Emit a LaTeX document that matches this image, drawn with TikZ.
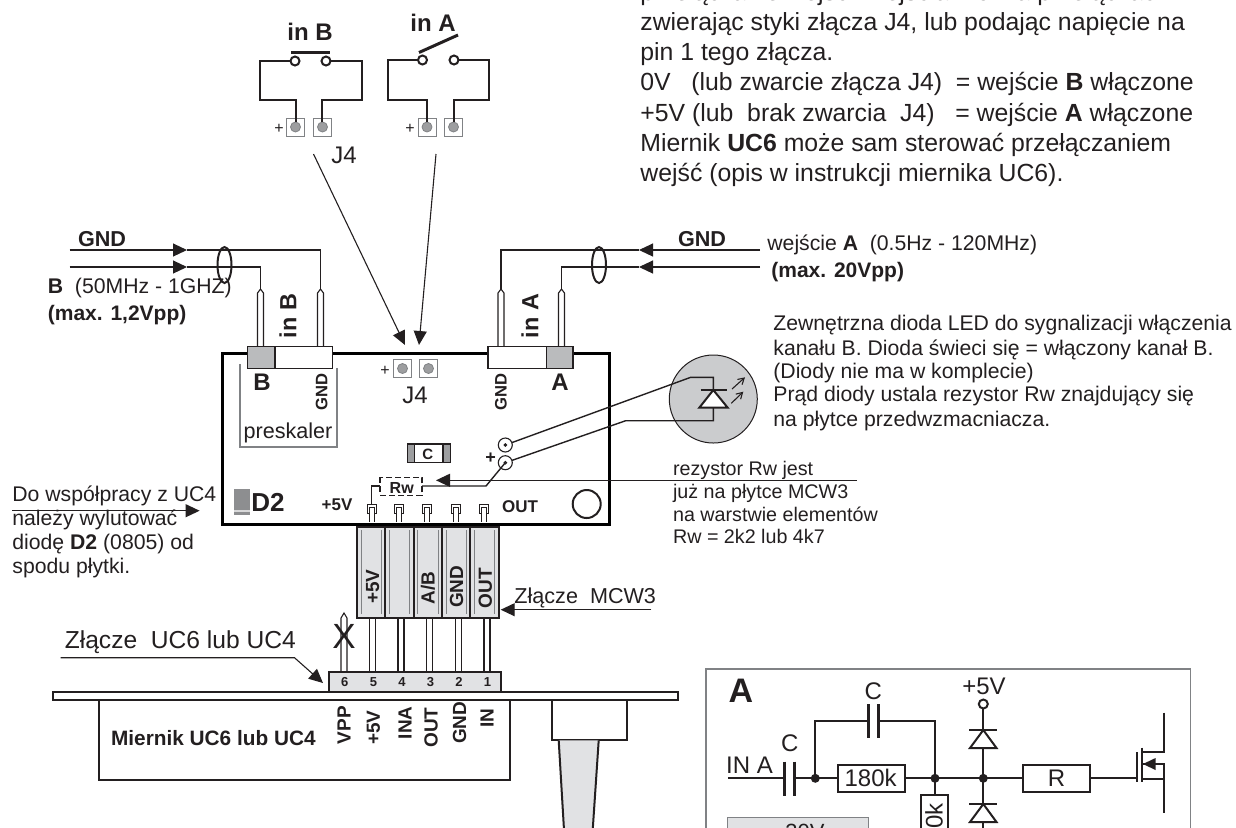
\documentclass[tikz,border=0pt]{standalone}
\usepackage{fontspec}
\setmainfont{Liberation Sans}
\usetikzlibrary{arrows.meta}
\definecolor{ink}{HTML}{231F20}
\definecolor{chip}{HTML}{E1E2E4}
\definecolor{padgray}{HTML}{9D9EA0}
\definecolor{ledgray}{HTML}{CBCCCE}
\definecolor{framegray}{HTML}{808285}
\tikzset{
%Define standard arrow tip
>={Triangle[length=7pt,width=6.5pt]},
%Define style for different line styles
wire/.style={draw=ink, line width=1pt},
thin wire/.style={draw=ink, line width=.55pt},
heavy wire/.style={draw=ink, line width=1.5pt},
pad frame/.style={draw=framegray, line width=.5pt, fill=white},
%Define style for the texts
txt/.style={inner sep=0pt, text=ink},
note/.style={txt, anchor=base west, font=\fontsize{10.6}{12}\selectfont},
small note/.style={txt, anchor=base west, font=\fontsize{9.85}{11}\selectfont},
body/.style={txt, anchor=base west, font=\fontsize{12.4}{15}\selectfont},
tag/.style={txt, font=\fontsize{8.5}{10}\bfseries\selectfont},
pin tag/.style={txt, rotate=90, font=\fontsize{9.5}{11}\bfseries\selectfont},
part/.style={txt, font=\fontsize{12}{14}\selectfont},
}

\begin{document}
\begin{tikzpicture}[x=.5pt,y=-.5pt]
    \useasboundingbox (0,0) rectangle (1236,827);
    \clip (0,0) rectangle (1236,827);
    % Let us define some coordinates
    \path
    coordinate (j4 b) at (313.5,154)
    coordinate (j4 b end) at (405,345)
    coordinate (j4 a) at (436,154)
    coordinate (j4 a end) at (419,345)
    coordinate (gnd b) at (69.5,250)
    coordinate (gnd b mid) at (187,250)
    coordinate (gnd b pin) at (320.5,250)
    coordinate (sig b) at (69.5,267)
    coordinate (sig b mid) at (187,267)
    coordinate (sig b pin) at (260.5,267)
    coordinate (gnd a) at (760,250)
    coordinate (gnd a mid) at (639,250)
    coordinate (gnd a pin) at (501,250)
    coordinate (sig a) at (760,267)
    coordinate (sig a mid) at (639,267)
    coordinate (sig a pin) at (561.5,267);

    % Top text
    \node[body] (top0) at (640,0) {przełączanie wejść i wejścia można przełączać};
    \node[body] (top1) at (640,30) {zwierając styki złącza J4, lub podając napięcie na};
    \node[body] (top2) at (640,60.7) {pin 1 tego złącza.};
    \node[body] (top3) at (640,90.7) {0V\ \ \ (lub zwarcie złącza J4)\ \ = wejście \textbf{B} włączone};
    \node[body] (top4) at (640,121) {+5V (lub\ \ brak zwarcia\ \ J4)\ \ \ = wejście \textbf{A} włączone};
    \node[body] (top5) at (640,151.7) {Miernik \textbf{UC6} może sam sterować przełączaniem};
    \node[body] (top6) at (640,181.7) {wejść (opis w instrukcji miernika UC6).};

    % Switches
    \node[txt, font=\fontsize{12}{14}\bfseries\selectfont] (in b) at (310,32) {in B};
    \node[txt, font=\fontsize{12}{14}\bfseries\selectfont] (in a) at (433,23) {in A};
    \draw[wire] (295,61) -- (260,61) -- (260,100) -- (296,100) -- (296,127);
    \draw[wire] (326,61) -- (362,61) -- (362,100) -- (322,100) -- (322,127);
    \draw[wire] (422.5,60) -- (387.5,60) -- (387.5,100) -- (427,100) -- (427,127);
    \draw[wire] (454,60) -- (488.5,60) -- (488.5,100) -- (454,100) -- (454,127);
    \draw[heavy wire] (291,52.5) -- (330,52.5);
    \draw[heavy wire] (419,52.5) -- (458,35);
    \foreach \x/\y in {295/61, 326/61, 422.5/60, 454/60}
      \draw[wire, fill=white] (\x,\y) circle (4.5);
    % Pads of J4
    \foreach \x/\y in {295.5/127, 322.5/127, 427/127, 453.5/127} {
      \draw[pad frame] (\x-9,\y-9) rectangle (\x+9,\y+9);
      \draw[draw=framegray, line width=.4pt, fill=padgray] (\x,\y) circle (5);
    }
    \draw[wire] (296,100) -- (296,122) (322,100) -- (322,122) (427,100) -- (427,122) (454,100) -- (454,122);
    \foreach \n/\x/\y in {p1/279/129, p2/410/129}
      \node[txt, font=\fontsize{8}{10}\selectfont] (\n) at (\x,\y) {+};
    \node[part] (j4 top) at (344,155) {J4};

    % Input lines
    \draw[thin wire, ->] (gnd b) -- (gnd b mid);
    \draw[thin wire] (gnd b mid) -- (gnd b pin) -- (320.5,292);
    \draw[thin wire, ->] (sig b) -- (sig b mid);
    \draw[thin wire] (sig b mid) -- (sig b pin) -- (260.5,292);
    \draw[thin wire, ->] (gnd a) -- (gnd a mid);
    \draw[thin wire] (gnd a mid) -- (gnd a pin) -- (501,292);
    \draw[thin wire, ->] (sig a) -- (sig a mid);
    \draw[thin wire] (sig a mid) -- (sig a pin) -- (561.5,292);
    \draw[wire] (224.5,265) ellipse [x radius=7, y radius=18];
    \draw[wire] (599,265) ellipse [x radius=7, y radius=18];
    \node[tag, font=\fontsize{10.8}{12}\bfseries\selectfont] (gnd lb) at (102,239) {GND};
    \node[tag, font=\fontsize{10.8}{12}\bfseries\selectfont] (gnd la) at (702,239) {GND};
    \node[note] (range b) at (47.5,293.3) {\textbf{B}\ \ (50MHz - 1GHZ)};
    \node[note, font=\fontsize{10.5}{12}\bfseries\selectfont] (max b) at (47.5,320) {(max. 1,2Vpp)};
    \node[note] (range a) at (767,250.7) {wejście \textbf{A}\ \ (0.5Hz - 120MHz)};
    \node[note, font=\fontsize{10.5}{12}\bfseries\selectfont] (max a) at (771,277.3) {(max. 20Vpp)};
    \node[pin tag, font=\fontsize{11.7}{13}\bfseries\selectfont] (in b pin) at (288,316) {in B};
    \node[pin tag, font=\fontsize{11.7}{13}\bfseries\selectfont] (in a pin) at (530,316) {in A};

    % Board
    \draw[draw=black, line width=1.5pt, fill=white] (222.7,353) rectangle (609,524);
    \foreach \x in {260.5,320.5,501,561.5}
      \draw[thin wire, fill=white] (\x-3,350) -- (\x-3,293) -- (\x,289) -- (\x+3,293) -- (\x+3,350);
    \draw[thin wire, fill=white] (247.3,346.7) rectangle (332.3,368.3);
    \draw[thin wire, fill=padgray!70] (247.3,346.7) rectangle (275,368.3);
    \draw[thin wire, fill=white] (488,346.7) rectangle (573,368.3);
    \draw[thin wire, fill=padgray!70] (546.7,346.7) rectangle (573,368.3);
    \draw[draw=framegray, line width=.6pt] (240,364) -- (240,447) -- (337,447) -- (337,367.7);
    \node[txt, font=\fontsize{12}{14}\bfseries\selectfont] (port b) at (262,382) {B};
    \node[txt, font=\fontsize{12}{14}\bfseries\selectfont] (port a) at (560,382) {A};
    \node[pin tag, font=\fontsize{8.3}{10}\bfseries\selectfont] (port b gnd) at (321.7,391.7) {GND};
    \node[pin tag, font=\fontsize{8.3}{10}\bfseries\selectfont] (port a gnd) at (501,391.7) {GND};
    \node[txt, font=\fontsize{10.8}{13}\selectfont] (preskaler) at (288,433) {preskaler};
    \foreach \x in {402.5,428.5} {
      \draw[pad frame] (\x-9,359.5) rectangle (\x+9,377.5);
      \draw[draw=framegray, line width=.4pt, fill=padgray] (\x,368.5) circle (5);
    }
    \node[txt, font=\fontsize{8}{10}\selectfont] (p3) at (385,370.7) {+};
    \node[part] (j4 board) at (415,395.7) {J4};
    \draw[thin wire, ->] (j4 b) -- (j4 b end);
    \draw[thin wire, ->] (j4 a) -- (j4 a end);

    % Parts on the board
    \draw[thin wire, fill=white] (407.3,444) rectangle (450.3,462.3);
    \draw[thin wire, fill=padgray] (407.3,444) rectangle (414.3,462.3);
    \draw[thin wire, fill=padgray] (443,444) rectangle (450.3,462.3);
    \node[tag, font=\fontsize{7.5}{9}\bfseries\selectfont] (c part) at (427.7,454) {C};
    \fill[padgray!90!black] (234,489.3) rectangle (250,515.3);
    \fill[padgray!40] (234,509.5) rectangle (250,511.5);
    \node[txt, font=\fontsize{13}{15}\bfseries\selectfont] (d2) at (268,502) {D2};
    \node[tag] (board 5v) at (337,505) {+5V};
    \node[tag] (board out) at (520,507) {OUT};
    \draw[draw=ink, line width=1pt] (586.7,504) circle (14);
    \foreach \x in {371.7,399,427,455.7,483.7} {
      \draw[draw=ink, line width=.4pt, fill=white] (\x-4.5,504) rectangle (\x+4.5,513);
      \draw[draw=ink, line width=.4pt, fill=white] (\x-2.5,522) -- (\x-2.5,507) -- (\x+2.5,507) -- (\x+2.5,522);
    }
    % LED
    \path coordinate (led k) at (505.3,445) coordinate (led a) at (505.3,462.7);
    \fill[ledgray, draw=ink, line width=.5pt] (713.3,399) circle (44);
    \draw[wire, line width=.7pt] (led k) -- (690.7,377.3) -- (713.3,377.3) -- (713.3,390);
    \draw[wire, line width=.7pt] (led a) -- (625.7,420.7) -- (713.3,420.7) -- (713.3,407);
    \foreach \c in {led k, led a} {
      \draw[thin wire, fill=white] (\c) circle (7);
      \draw[thin wire, fill=white] (\c) circle (1.2);
    }
    \draw[wire, line width=1pt, fill=white] (713.3,390) -- (727.7,407.7) -- (699.3,407.7) -- cycle;
    \draw[wire] (700.7,390) -- (726.7,390);
    \draw[thin wire, -{Straight Barb[length=3pt,width=3.5pt]}] (732,389) -- (745,377.3);
    \draw[thin wire, -{Straight Barb[length=3pt,width=3.5pt]}] (731.3,403.3) -- (743.3,391.7);
    \node[tag, font=\fontsize{9}{10}\bfseries\selectfont] (led plus) at (490.7,458.7) {+};
    % Rw
    \draw[wire, line width=.7pt] (led a) -- (486,486) -- (422,486);
    \draw[wire, line width=.7pt] (380,486) -- (371.7,486) -- (371.7,504);
    \draw[wire, line width=.6pt, dashed, dash pattern=on 3pt off 1.5pt, fill=white] (380,477.3) rectangle (422,495.3);
    \node[tag, font=\fontsize{8}{10}\bfseries\selectfont] (rw) at (401.7,487.7) {Rw};
    \path coordinate (rw from) at (856.7,480.3) coordinate (rw to) at (436,480.3);
    \draw[thin wire, ->] (rw from) -- (rw to);
    \node[small note] (rw1) at (672.7,475.7) {rezystor Rw jest};
    \node[small note] (rw2) at (672.7,498.3) {już na płytce MCW3};
    \node[small note] (rw3) at (672.7,521) {na warstwie elementów};
    \node[small note] (rw4) at (672.7,543.7) {Rw = 2k2 lub 4k7};
    % Text about the LED
    \node[note] (led1) at (773,330.7) {Zewnętrzna dioda LED do sygnalizacji włączenia};
    \node[note] (led2) at (773,355) {kanału B. Dioda świeci się = włączony kanał B.};
    \node[note] (led3) at (773,378.3) {(Diody nie ma w komplecie)};
    \node[note] (led4) at (773,401.7) {Prąd diody ustala rezystor Rw znajdujący się};
    \node[note] (led5) at (773,426) {na płytce przedwzmacniacza.};
    % Text about D2
    \node[note] (d2 a) at (12,501) {Do współpracy z UC4};
    \node[note] (d2 b) at (12,525) {należy wylutować};
    \node[note] (d2 c) at (12,549.3) {diodę \textbf{D2} (0805) od};
    \node[note] (d2 d) at (12,573.3) {spodu płytki.};
    \path coordinate (d2 from) at (12,510.7) coordinate (d2 to) at (199.6,510.7);
    \draw[thin wire, ->] (d2 from) -- (d2 to);

    % Connector MCW3
    \foreach \x/\xx in {357/385.4,385.4/413.5,413.5/441.9,441.9/470.3,470.3/498.8} {
      \draw[wire, fill=chip] (\x,526.7) rectangle (\xx,617.7);
      \draw[draw=framegray, line width=.4pt] (\x+4,530) -- (\x+4,614) (\xx-4,530) -- (\xx-4,614);
    }
    \node[pin tag] (mcw 5v) at (372.7,586.7) {+5V};
    \node[pin tag] (mcw ab) at (428,587.7) {A/B};
    \node[pin tag] (mcw gnd) at (456.5,586.7) {GND};
    \node[pin tag] (mcw out) at (485.4,588) {OUT};
    \node[note, font=\fontsize{10.8}{12}\selectfont] (mcw) at (514,603.3) {Złącze\ \ MCW3};
    \path coordinate (mcw from) at (651.3,609.7) coordinate (mcw to) at (500.7,609.7);
    \draw[thin wire, ->] (mcw from) -- (mcw to);
    % Pins
    \foreach \x in {372.3,401,429.6,458.5,487}
      \draw[thin wire] (\x-3,617.7) -- (\x-3,671.7) (\x+3,617.7) -- (\x+3,671.7);
    \draw[thin wire] (341,671.7) -- (341,618) -- (344,613) -- (347,618) -- (347,671.7);
    \node[txt, font=\fontsize{17.5}{19}\selectfont] (x mark) at (344,636.7) {X};

    % UC6
    \draw[wire, fill=white] (53.4,691.7) rectangle (678.3,700);
    \draw[wire, fill=chip] (329.2,671.7) rectangle (501,691.7);
    \foreach \n/\x in {6/344.7,5/373.5,4/402,3/430.4,2/459,1/487.4}
      \node[tag, font=\fontsize{6.5}{8}\bfseries\selectfont] (s\n) at (\x,682) {\n};
    \draw[wire] (98.8,700) -- (98.8,780) -- (510,780) -- (510,700);
    \draw[wire] (552.3,700) -- (552.3,740.3) -- (627.3,740.3) -- (627.3,700);
    \draw[wire, fill=chip] (558.7,740.3) -- (564,830) -- (592.7,830) -- (598.7,740.3);
    \node[txt, font=\fontsize{10.4}{12}\bfseries\selectfont] (uc6) at (213.4,738) {Miernik UC6 lub UC4};
    \node[pin tag] (uc vpp) at (344,725) {VPP};
    \node[pin tag] (uc 5v) at (373.5,727.7) {+5V};
    \node[pin tag] (uc ina) at (405,722.7) {INA};
    \node[pin tag] (uc out) at (431,727.7) {OUT};
    \node[pin tag] (uc gnd) at (459.7,722.7) {GND};
    \node[pin tag] (uc in) at (487,718.3) {IN};
    \node[note, font=\fontsize{12.3}{14}\selectfont] (uc con) at (64.4,648.3) {Złącze\ \ UC6 lub UC4};
    \path coordinate (uc from) at (60.5,657.7) coordinate (uc bend) at (294.5,657.7) coordinate (uc to) at (323,683);
    \draw[thin wire, ->] (uc from) -- (uc bend) -- (uc to);

    % Inset A
    \draw[draw=framegray, line width=.8pt] (705.8,840) -- (705.8,669) -- (1190.5,669) -- (1190.5,840);
    \node[txt, font=\fontsize{17}{19}\bfseries\selectfont] (inset) at (741,691) {A};
    \draw[wire] (727.8,778.3) -- (1138,778.3);
    \draw[wire] (815.3,778.3) -- (815.3,721) -- (935,721) -- (935,778.3);
    \draw[wire] (983.3,704) -- (983.3,840);
    \fill[white] (785,755) rectangle (794,800) (869,700) rectangle (878,740);
    \draw[heavy wire] (784.5,761.7) -- (784.5,795.7) (794.3,761.7) -- (794.3,795.7);
    \draw[heavy wire] (868.5,704.3) -- (868.5,738.3) (878.3,704.3) -- (878.3,738.3);
    \foreach \x in {815.3,935,983.3}
      \fill[ink] (\x,778.3) circle (4.5);
    \draw[wire, fill=white] (983.3,704) circle (4.5);
    \node[part] (c in) at (789.8,743.7) {C};
    \node[part] (c fb) at (873.4,691.7) {C};
    \node[part] (in label) at (749.5,765.7) {IN A};
    \node[part] (p5v) at (984,686.7) {+5V};
    \draw[wire, fill=white] (837.7,765) rectangle (904.6,791.7);
    \node[part] (r180) at (870.6,778.3) {180k};
    \draw[wire, fill=white] (1022.5,765) rectangle (1089.7,791.7);
    \node[part] (r) at (1056.5,778.3) {R};
    \foreach \y in {730,804} {
      \draw[wire, fill=white] (983.3,\y) -- (996.5,\y+18) -- (970,\y+18) -- cycle;
      \draw[wire] (969,\y) -- (997,\y);
    }
    % The resistor to ground
    \draw[wire] (935,778.3) -- (935,795);
    \draw[wire, fill=white] (920.5,795) rectangle (947.5,840);
    \node[part, rotate=90, anchor=east] (r bottom) at (934,803) {0k};
    \draw[draw=framegray, line width=.6pt, fill=chip] (727.7,817.7) rectangle (868.3,840);
    \node[part, font=\fontsize{11}{13}\selectfont, anchor=north] (v30) at (805,824) {30V};
    % Transistor
    \draw[wire] (1137.3,752.3) -- (1137.3,782.3);
    \draw[wire] (1142,747.7) -- (1142,782.3);
    \draw[wire] (1164.3,712.7) -- (1164.3,752) -- (1142,752);
    \draw[wire] (1164.3,812.7) -- (1164.3,764) -- (1142,764);
    \draw[wire] (1164.3,779) -- (1142,779);
    \fill[ink] (1143,764) -- (1155.5,758) -- (1155.5,770) -- cycle;
\end{tikzpicture}
\end{document}
